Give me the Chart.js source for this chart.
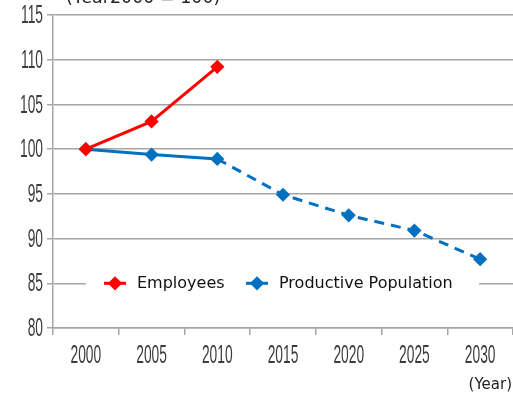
<!DOCTYPE html>
<html>
<head>
<meta charset="utf-8">
<script src="https://cdn.jsdelivr.net/npm/chart.js@4/dist/chart.umd.min.js"></script>
<style>
  html, body { margin: 0; padding: 0; background: #fff; }
  #wrap { width: 513px; height: 396px; position: relative; }
</style>
</head>
<body>
<div id="wrap"><canvas id="chart"></canvas></div>
<script>
const years = ["2000", "2005", "2010", "2015", "2020", "2025", "2030"];
const employees = [100, 103.1, 109.2, null, null, null, null];
const productivePopulation = [100, 99.4, 98.9, 94.9, 92.6, 90.9, 87.7];
const yTicks = [80, 85, 90, 95, 100, 105, 110, 115];

const RED = "#ff0000";
const BLUE = "#0070c0";
const GRID = "#a6a6a6";
const LABEL = "#3c3c3c";
const SANS = "'DejaVu Sans', sans-serif";
const NUM = "'Liberation Sans', Arial, sans-serif";

// condensed tick labels, drawn by hand since no narrow font is installed
function drawNarrow(ctx, text, x, y, size, squeeze, align) {
    ctx.save();
    ctx.translate(x, y);
    ctx.scale(squeeze, 1);
    ctx.font = size + "px " + NUM;
    ctx.textAlign = align;
    ctx.textBaseline = "middle";
    ctx.fillText(text, 0, 0);
    ctx.restore();
}

// draws tick labels, caption texts and the in-plot legend
const extrasPlugin = {
    id: "extras",
    afterDatasetsDraw(chart) {
        const ctx = chart.ctx;
        const { x: xs, y: ys } = chart.scales;
        const y = ys.getPixelForValue(85);
        ctx.save();
        ctx.fillStyle = "#fff";
        ctx.fillRect(86, y - 14, 393, 28);

        const items = [
            { label: "Employees", color: RED, x: 104 },
            { label: "Productive Population", color: BLUE, x: 246 },
        ];
        ctx.font = "16px " + SANS;
        ctx.textBaseline = "middle";
        items.forEach((it) => {
            ctx.strokeStyle = it.color;
            ctx.lineWidth = 3;
            ctx.beginPath();
            ctx.moveTo(it.x, y);
            ctx.lineTo(it.x + 22, y);
            ctx.stroke();
            ctx.fillStyle = it.color;
            Chart.helpers.drawPoint(ctx, { pointStyle: "rectRot", radius: 5, borderWidth: 1 }, it.x + 11, y);
            ctx.fill();
            ctx.fillStyle = "#111";
            ctx.textAlign = "left";
            ctx.fillText(it.label, it.x + 33, y + 1);
        });

        ctx.fillStyle = LABEL;
        yTicks.forEach((v) => {
            drawNarrow(ctx, String(v), 43, ys.getPixelForValue(v) + 1, 26, 0.53, "right");
        });
        years.forEach((yr, i) => {
            drawNarrow(ctx, yr, xs.getPixelForValue(i), 356, 26, 0.53, "center");
        });

        ctx.fillStyle = "#222";
        ctx.font = "15px " + SANS;
        ctx.textAlign = "right";
        ctx.textBaseline = "alphabetic";
        ctx.fillText("(Year)", 512, 389);

        ctx.font = "17.5px " + SANS;
        ctx.textAlign = "left";
        ctx.fillText("(Year2000 = 100)", 66, 3);
        ctx.restore();
    },
};

new Chart(document.getElementById("chart"), {
    type: "line",
    data: {
        labels: years,
        datasets: [
            {
                label: "Employees",
                data: employees,
                borderColor: RED,
                backgroundColor: RED,
                borderWidth: 3,
                pointStyle: "rectRot",
                pointRadius: 5,
                spanGaps: false,
            },
            {
                label: "Productive Population",
                data: productivePopulation,
                borderColor: BLUE,
                backgroundColor: BLUE,
                borderWidth: 3,
                pointStyle: "rectRot",
                pointRadius: 5,
                segment: {
                    borderDash: (c) => (c.p0DataIndex >= 2 ? [10, 7] : undefined),
                },
            },
        ],
    },
    options: {
        responsive: true,
        maintainAspectRatio: false,
        animation: false,
        layout: {
            autoPadding: false,
            padding: { top: 15, right: 0, left: 0, bottom: 0 },
        },
        plugins: {
            legend: { display: false },
            tooltip: { enabled: false },
        },
        scales: {
            x: {
                offset: true,
                grid: {
                    display: true,
                    offset: true,
                    drawOnChartArea: false,
                    drawTicks: true,
                    tickLength: 7,
                    color: GRID,
                    lineWidth: 1.5,
                },
                border: { color: GRID, width: 1.5 },
                ticks: { display: false },
                afterFit: (scale) => {
                    scale.height = 68;
                    scale.paddingLeft = 0;
                    scale.paddingRight = 0;
                },
            },
            y: {
                min: 80,
                max: 115,
                afterBuildTicks: (scale) => {
                    scale.ticks = yTicks.map((v) => ({ value: v }));
                },
                grid: {
                    color: GRID,
                    lineWidth: 1.5,
                    tickLength: 6,
                },
                border: { color: GRID, width: 1.5 },
                ticks: { display: false },
                afterFit: (scale) => {
                    scale.width = 53;
                    scale.paddingTop = 0;
                    scale.paddingBottom = 0;
                },
            },
        },
    },
    plugins: [extrasPlugin],
});
</script>
</body>
</html>
